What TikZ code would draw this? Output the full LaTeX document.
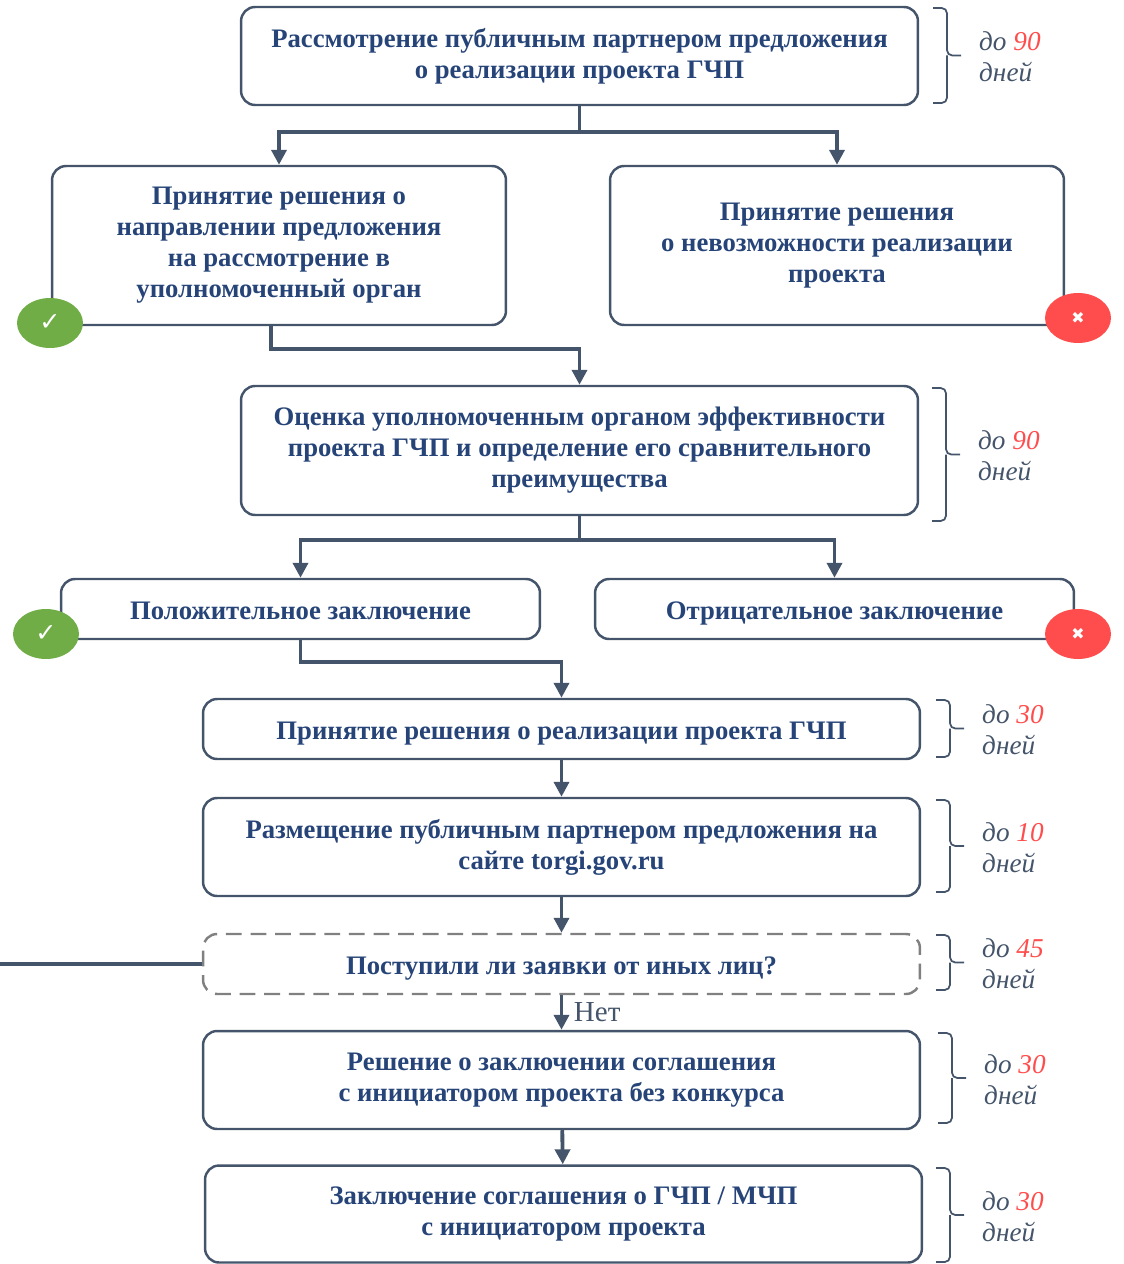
\documentclass[tikz,border=0pt]{standalone}
\usepackage{fontspec}
\setmainfont{Liberation Serif}
\newfontfamily\symfont{DejaVu Sans}
\usetikzlibrary{arrows.meta,shapes.geometric}
\definecolor{ramka}{HTML}{44546A}
\definecolor{tekst}{HTML}{264478}
\definecolor{krasn}{HTML}{FF4D4D}
\definecolor{zelen}{HTML}{70AD47}
\tikzset{
    shag/.style={draw=ramka, line width=1.4pt, rounded corners=8pt, align=center, text=tekst,
        font=\fontsize{15.2}{17.6}\selectfont\bfseries, inner sep=0pt}, % блок схемы
    odna/.style={text height=14pt, text depth=2pt}, % блок в одну строку
    svyaz/.style={draw=ramka, line width=2.2pt}, % линия
    strel/.style={svyaz, -{Triangle[length=8.5pt, width=8.5pt]}}, % стрелка
    metka/.style={ellipse, inner sep=0pt, minimum width=1.32cm, minimum height=1cm, text=white}, % значок
    srok/.style={anchor=base west, text=ramka, font=\fontsize{15.5}{17.6}\selectfont\itshape} % подпись срока
}

\begin{document}
\begin{tikzpicture}[x=0.02cm, y=-0.02cm]
    \useasboundingbox (0,0) rectangle (1124,1264);

    \node[shag, minimum width=13.54cm, minimum height=1.96cm] (rassm) at (579.5,56) {Рассмотрение публичным партнером предложения\\о реализации проекта ГЧП};
    \node[shag, minimum width=9.08cm, minimum height=3.18cm] (napr) at (279,245.5) {Принятие решения о\\направлении предложения\\на рассмотрение в\\уполномоченный орган};
    \node[shag, minimum width=9.08cm, minimum height=3.18cm] (nevozm) at (837,245.5) {Принятие решения\\о невозможности реализации\\проекта};
    \node[shag, minimum width=13.54cm, minimum height=2.58cm] (ocenka) at (579.5,450.5) {Оценка уполномоченным органом эффективности\\проекта ГЧП и определение его сравнительного\\преимущества};
    \node[shag, odna, minimum width=9.58cm, minimum height=1.2cm] (polozh) at (300.5,609) {Положительное заключение};
    \node[shag, odna, minimum width=9.58cm, minimum height=1.2cm] (otric) at (834.5,609) {Отрицательное заключение};
    \node[shag, odna, minimum width=14.34cm, minimum height=1.2cm] (reshenie) at (561.5,729) {Принятие решения о реализации проекта ГЧП};
    \node[shag, minimum width=14.34cm, minimum height=1.96cm] (razm) at (561.5,847) {Размещение публичным партнером предложения на\\сайте torgi.gov.ru};
    \node[shag, odna, draw=gray, dashed, dash pattern=on 9pt off 5pt, minimum width=14.34cm, minimum height=1.2cm] (zayavki) at (561.5,964) {Поступили ли заявки от иных лиц?};
    \node[shag, minimum width=14.34cm, minimum height=1.96cm] (bezkonk) at (561.5,1080) {Решение о заключении соглашения\\с инициатором проекта без конкурса};
    \node[shag, minimum width=14.34cm, minimum height=1.94cm] (zakl) at (563.5,1214) {Заключение соглашения о ГЧП / МЧП\\с инициатором проекта};

    % связи
    \draw[svyaz] (rassm.south) -- ++(0,26) coordinate (razv1);
    \draw[strel] (razv1) -| (napr.north);
    \draw[strel] (razv1) -| (nevozm.north);
    \draw[strel] ([xshift=-0.16cm]napr.south) -- ++(0,23) -| (ocenka.north);
    \draw[svyaz] (ocenka.south) -- ++(0,24) coordinate (razv2);
    \draw[strel] (razv2) -| (polozh.north);
    \draw[strel] (razv2) -| (otric.north);
    \draw[strel] (polozh.south) -- ++(0,22) -| (reshenie.north);
    \draw[strel] (reshenie) -- (razm);
    \draw[strel] (razm) -- (zayavki);
    \draw[strel] (zayavki) -- node[right, text=ramka, font=\fontsize{16.5}{18}\selectfont, inner sep=6pt] {Нет} (bezkonk);
    \draw[strel] (bezkonk) -- (zakl);
    \coordinate (vyhod) at (0,964);
    \draw[svyaz] (zayavki.west) -- (vyhod);

    % значки
    \node[metka, fill=zelen, font=\symfont\Large] (ok1) at (50,323) {✓};
    \node[metka, fill=zelen, font=\symfont\Large] (ok2) at (46,634) {✓};
    \node[metka, fill=krasn, font=\symfont\small] (net1) at (1078,318) {✖};
    \node[metka, fill=krasn, font=\symfont\small] (net2) at (1078,634) {✖};

    % сроки
    \foreach \t/\b/\x/\n in {8/103/933/90, 388/521/932/90, 700/757/936/30, 800/892/936/10, 935/990/936/45, 1033/1123/938/30, 1168/1262/936/30} {
        \draw[ramka, line width=1pt, rounded corners=3pt] (\x,\t) -- (\x+14,\t) -- (\x+14,{(\t+\b)/2}) -- (\x+28,{(\t+\b)/2});
        \draw[ramka, line width=1pt, rounded corners=3pt] (\x+14,{(\t+\b)/2}) -- (\x+14,\b) -- (\x,\b);
        \node[srok] at (\x+40,{(\t+\b)/2-5}) {до \textcolor{krasn}{\n}};
        \node[srok] at (\x+40,{(\t+\b)/2+26}) {дней};
    }
\end{tikzpicture}
\end{document}
